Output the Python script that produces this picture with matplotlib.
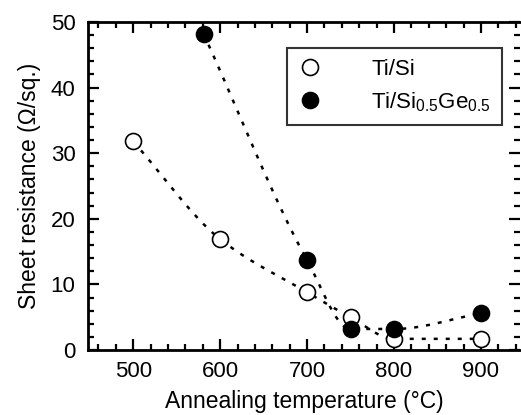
import numpy as np
import matplotlib
matplotlib.use("Agg")
import matplotlib.pyplot as plt
from matplotlib.ticker import MultipleLocator

plt.rcParams['font.family'] = ['Liberation Sans', 'DejaVu Sans']
plt.rcParams['mathtext.fontset'] = 'custom'
plt.rcParams['mathtext.rm'] = 'Liberation Sans'
plt.rcParams['mathtext.it'] = 'Liberation Sans'

# Data
temp_si = [500, 600, 700, 750, 800, 900]
rs_si = [31.8, 16.9, 8.8, 5.0, 1.7, 1.7]
temp_sige = [581, 700, 750, 800, 900]
rs_sige = [48.2, 13.7, 3.2, 3.2, 5.6]
label_si = "Ti/Si"
label_sige = r"Ti/Si$_{\mathregular{0.5}}$Ge$_{\mathregular{0.5}}$"
xticks = [500, 600, 700, 800, 900]
yticks = [0, 10, 20, 30, 40, 50]


def pchip(x, y, xn):
    x = np.asarray(x, float); y = np.asarray(y, float)
    h = np.diff(x); d = np.diff(y) / h
    n = len(x)
    m = np.zeros(n)
    for k in range(1, n - 1):
        if d[k - 1] * d[k] > 0:
            w1 = 2 * h[k] + h[k - 1]; w2 = h[k] + 2 * h[k - 1]
            m[k] = (w1 + w2) / (w1 / d[k - 1] + w2 / d[k])
    m[0] = d[0]; m[-1] = d[-1]
    out = np.empty_like(xn)
    for i, xv in enumerate(xn):
        k = min(max(np.searchsorted(x, xv) - 1, 0), n - 2)
        t = (xv - x[k]) / h[k]
        h00 = 2*t**3 - 3*t**2 + 1; h10 = t**3 - 2*t**2 + t
        h01 = -2*t**3 + 3*t**2; h11 = t**3 - t**2
        out[i] = h00*y[k] + h10*h[k]*m[k] + h01*y[k+1] + h11*h[k]*m[k+1]
    return out


fig = plt.figure(figsize=(5.21, 4.15), dpi=100)
ax = fig.add_axes([88/521, 1 - 350/415, 432/521, 328/415])

xs1 = np.linspace(temp_si[0], temp_si[-1], 300)
xs2 = np.linspace(temp_sige[0], temp_sige[-1], 300)
ax.plot(xs1, pchip(temp_si, rs_si, xs1), color='black', lw=1.8, ls=(0, (1.6, 3.2)))
ax.plot(xs2, pchip(temp_sige, rs_sige, xs2), color='black', lw=1.8, ls=(0, (1.6, 3.2)))

ax.plot(temp_si, rs_si, 'o', ms=11.5, mfc='white', mec='black', mew=1.2,
        label=label_si, zorder=3)
ax.plot(temp_sige, rs_sige, 'o', ms=11.5, mfc='black', mec='black', mew=1.2,
        label=label_sige, zorder=3)

ax.set_xlim(448, 945)
ax.set_ylim(0, 50)
ax.set_xticks(xticks)
ax.set_yticks(yticks)
ax.xaxis.set_minor_locator(MultipleLocator(20))
ax.yaxis.set_minor_locator(MultipleLocator(2))
ax.tick_params(which='both', direction='in', top=True, right=True, width=1.6,
               labelsize=16)
ax.tick_params(which='major', length=8)
ax.tick_params(which='minor', length=4.5)
ax.tick_params(axis='x', pad=8)
ax.tick_params(axis='y', pad=9)
for s in ['left', 'bottom', 'top']:
    ax.spines[s].set_linewidth(2)
ax.spines['right'].set_visible(False)

ax.set_xlabel("Annealing temperature (°C)", fontsize=16.5, labelpad=6)
ax.set_ylabel("Sheet resistance (Ω/sq.)", fontsize=16.5, labelpad=7)

leg = ax.legend(loc='upper left', bbox_to_anchor=(0.46, 0.921), fontsize=16,
                frameon=True, fancybox=False, edgecolor='black',
                handlelength=1.1, handletextpad=2.2, borderpad=0.5,
                labelspacing=0.45, borderaxespad=0)
leg.get_frame().set_linewidth(1.5)

fig.savefig("out.png", dpi=100)
